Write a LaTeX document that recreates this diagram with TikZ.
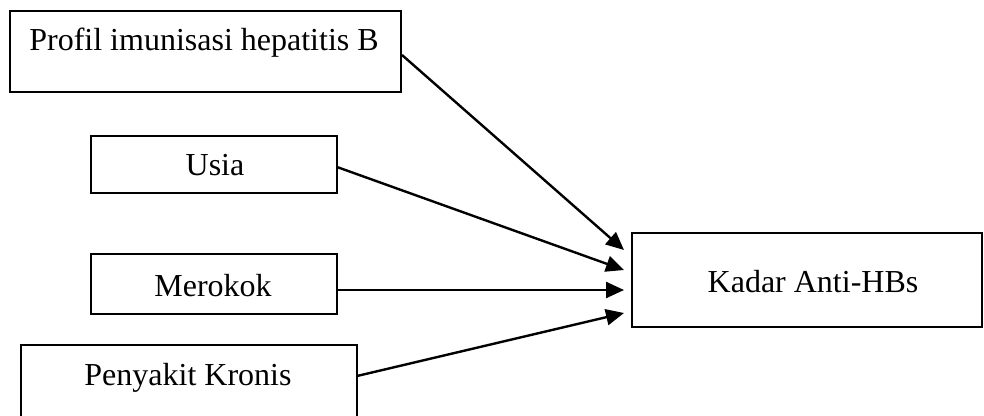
\documentclass[tikz,border=0pt]{standalone}
\usepackage{fontspec}
\setmainfont{Liberation Serif}
\usetikzlibrary{arrows.meta,calc}
\begin{document}
\begin{tikzpicture}[x=1pt,y=-1pt,
  box/.style={draw,line width=1.8pt,inner sep=0pt},
  lbl/.style={anchor=base,inner sep=0pt,font=\fontsize{32}{40}\selectfont},
  arr/.style={line width=2.4pt,-{Triangle[length=18pt,width=16pt]}}]
\useasboundingbox (0,0) rectangle (984,415);
\fill[white] (0,0) rectangle (984,415);
% boxes
\draw[box] (10,11) rectangle (401,92);
\draw[box] (91,136) rectangle (337,193);
\draw[box] (91,254) rectangle (337,314);
\draw[box] (21,345) rectangle (357,440);
\draw[box] (632,233) rectangle (982,327);
% labels
\node[lbl] (tp) at (204,50) {Profil imunisasi hepatitis B};
\node[lbl] (tu) at (215,175) {Usia};
\node[lbl] (tm) at (213,296) {Merokok};
\node[lbl] (tk) at (188,385) {Penyakit Kronis};
\node[lbl] (th) at (813,292) {Kadar Anti-HBs};
% connector ends
\coordinate (s1) at (402,55);
\coordinate (s2) at (337,167);
\coordinate (s3) at (337,290);
\coordinate (s4) at (357,376);
\coordinate (e1) at (624,250);
\coordinate (e2) at (624,270);
\coordinate (e3) at (624,290);
\coordinate (e4) at (624,313);
\draw[arr] (s1) -- (e1);
\draw[arr] (s2) -- (e2);
\draw[arr] (s3) -- (e3);
\draw[arr] (s4) -- (e4);
\end{tikzpicture}
\end{document}
